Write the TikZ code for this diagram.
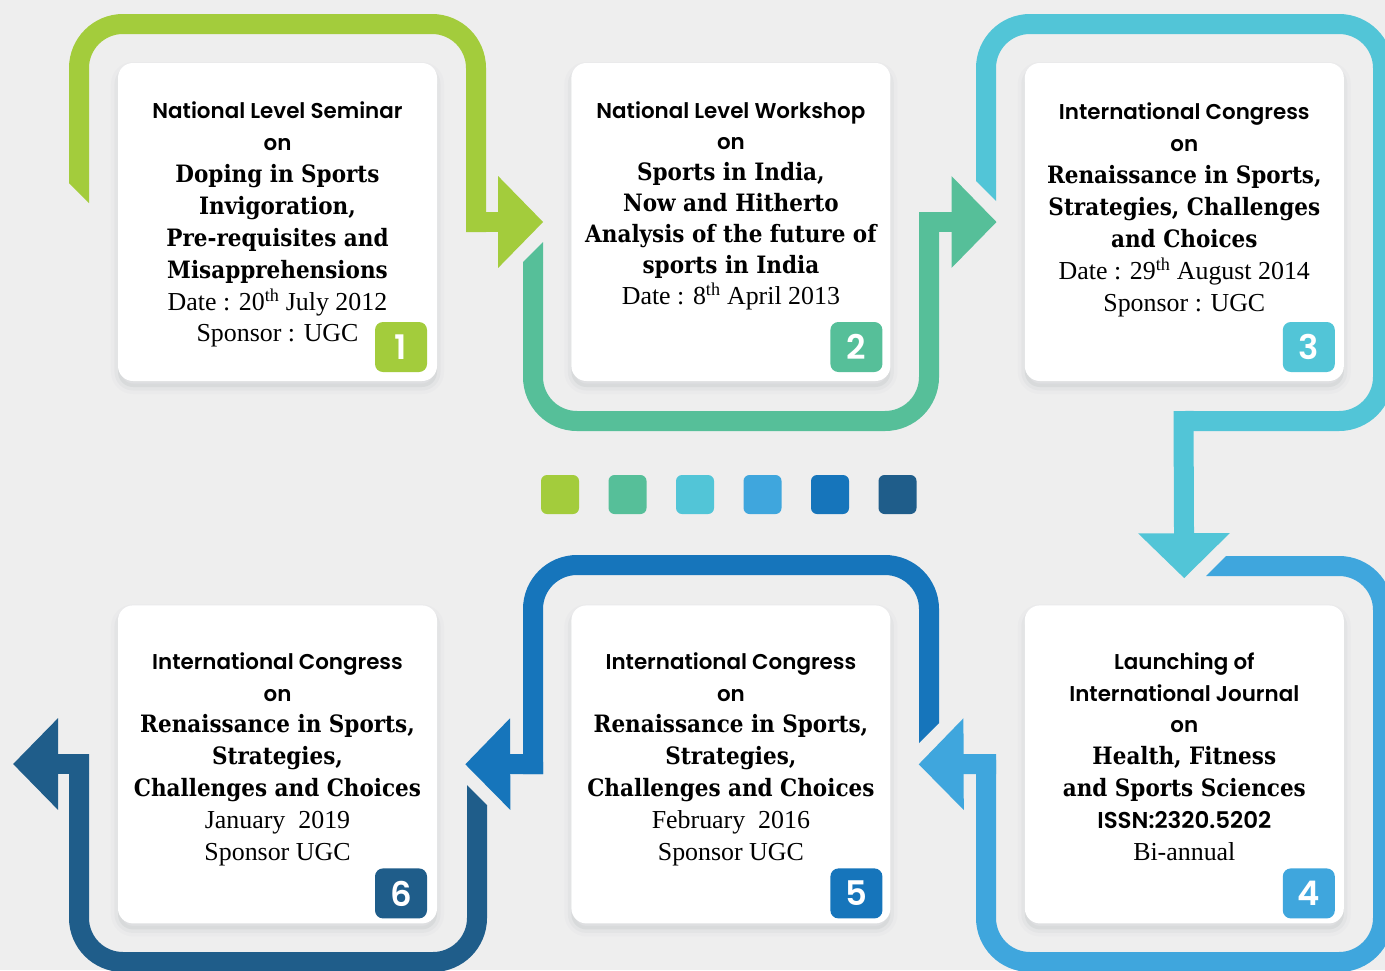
\documentclass[tikz,border=0pt]{standalone}
\usepackage{fontspec}
\setmainfont{Liberation Serif}
\newfontfamily\gothicfam{Poppins}[UprightFont=* Medium, BoldFont=* SemiBold]
\newfontfamily\slabfam{DejaVu Serif}[FakeStretch=0.9]
\usetikzlibrary{arrows.meta,positioning}

\definecolor{bg}{HTML}{EEEEEE}
\definecolor{leaf}{HTML}{A3CC3C}
\definecolor{mint}{HTML}{56BF99}
\definecolor{aqua}{HTML}{52C5D7}
\definecolor{sky}{HTML}{3FA6DD}
\definecolor{ocean}{HTML}{1675BB}
\definecolor{navy}{HTML}{1F5D8A}
\definecolor{shade}{HTML}{5A6670}

\newcommand{\hdfont}{\gothicfam\bfseries\fontsize{21.5}{32}\selectfont}
\newcommand{\slabfont}{\slabfam\bfseries\fontsize{24}{32}\selectfont}
\newcommand{\datefont}{\rmfamily\fontsize{26}{32}\selectfont}

\tikzstyle{Card} = [fill=white, rounded corners=15bp, minimum width=319bp, minimum height=318bp, inner sep=0pt,
  preaction={draw=shade, line width=14bp, opacity=0.025, transform canvas={yshift=-6bp}},
  preaction={draw=shade, line width=7bp, opacity=0.045, transform canvas={yshift=-6bp}},
  preaction={fill=shade, opacity=0.08, transform canvas={yshift=-6bp}}]
\tikzstyle{Info} = [align=center, inner sep=0pt, font=\datefont]
\tikzstyle{Badge} = [rounded corners=8bp, minimum width=52bp, minimum height=50bp, inner sep=0pt, text=white,
  font=\gothicfam\bfseries\fontsize{34}{34}\selectfont]
\tikzstyle{Loop} = [line width=20bp, rounded corners=44bp]
\tikzstyle{Head} = [-{Triangle[length=45bp,width=89bp]}, sharp corners]
\tikzstyle{Dot} = [rounded corners=6bp, minimum width=38bp, minimum height=39bp, inner sep=0pt]

\begin{document}
\begin{tikzpicture}[x=1bp, y=-1bp]
    \useasboundingbox (0,0) rectangle (1385,970);
    \fill[bg] (0,0) rectangle (1385,970);

    % cards
    \node[Card] (c1) at (277.5,222) {};
    \node[Card] (c2) [right=134bp of c1] {};
    \node[Card] (c3) [right=134bp of c2] {};
    \node[Card] (c4) [below=224bp of c3] {};
    \node[Card] (c5) [left=134bp of c4] {};
    \node[Card] (c6) [left=134bp of c5] {};

    % loops
    \fill[leaf] (69,183) -- (89,183) -- (89,203) -- cycle;
    \draw[Loop, leaf] (79,183) -- (79,24) -- (476,24) -- (476,232);
    \draw[Loop, Head, leaf, shorten >=28bp] (466,222) -- (c2.west);

    \fill[mint] (543,242) -- (543,262) -- (523,262) -- cycle;
    \draw[Loop, mint] (533,262) -- (533,421) -- (929,421) -- (929,212);
    \draw[Loop, Head, mint, shorten >=28bp] (919,222) -- (c3.west);

    \fill[aqua] (976,181) -- (996,181) -- (996,201) -- cycle;
    \draw[Loop, aqua] (986,181) -- (986,24) -- (1383,24) -- (1383,421) -- (1174,421);
    \draw[Loop, Head, aqua, shorten >=27bp] (1183.5,411) -- (c4.north);

    \fill[sky] (1226,556) -- (1226,576) -- (1206,576) -- cycle;
    \draw[Loop, sky] (1226,566) -- (1383,566) -- (1383,962) -- (986,962) -- (986,754);
    \draw[Loop, Head, sky, shorten >=28bp] (996,764) -- (c5.east);

    \fill[ocean] (919,723) -- (939,723) -- (919,743) -- cycle;
    \draw[Loop, ocean] (929,723) -- (929,565) -- (533,565) -- (533,774);
    \draw[Loop, Head, ocean, shorten >=28bp] (543,764) -- (c6.east);

    \fill[navy] (467,785) -- (467,805) -- (487,805) -- cycle;
    \draw[Loop, navy] (477,805) -- (477,962) -- (79,962) -- (79,754);
    \coordinate (exit) at (13,764);
    \draw[Loop, Head, navy] (89,764) -- (exit);

    % texts
    \node[Info] (t1) [below=39bp of c1.north] {{\hdfont National Level Seminar}\\ {\hdfont on}\\
      {\slabfont Doping in Sports}\\ {\slabfont Invigoration,}\\ {\slabfont Pre-requisites and}\\
      {\slabfont Misapprehensions}\\ Date : 20\textsuperscript{th} July 2012\\ Sponsor : UGC};
    \node[Info, font=\rmfamily\fontsize{26}{31}\selectfont] (t2) [below=39bp of c2.north] {{\hdfont National Level Workshop}\\ {\hdfont on}\\
      {\slabfont Sports in India,}\\ {\slabfont Now and Hitherto}\\ {\slabfont Analysis of the future of}\\
      {\slabfont sports in India}\\ Date : 8\textsuperscript{th} April 2013};
    \node[Info] (t3) [below=40bp of c3.north] {{\hdfont International Congress}\\ {\hdfont on}\\
      {\slabfont Renaissance in Sports,}\\ {\slabfont Strategies, Challenges}\\ {\slabfont and Choices}\\
      Date : 29\textsuperscript{th} August 2014\\ Sponsor : UGC};
    \node[Info] (t4) [below=47bp of c4.north] {{\hdfont Launching of}\\ {\hdfont International Journal}\\ {\hdfont on}\\
      {\slabfont Health, Fitness}\\ {\slabfont and Sports Sciences}\\
      {\gothicfam\bfseries\fontsize{23}{32}\selectfont ISSN:2320.5202}\\ Bi-annual};
    \node[Info] (t5) [below=47bp of c5.north] {{\hdfont International Congress}\\ {\hdfont on}\\
      {\slabfont Renaissance in Sports,}\\ {\slabfont Strategies,}\\ {\slabfont Challenges and Choices}\\
      February~~2016\\ Sponsor UGC};
    \node[Info] (t6) [below=47bp of c6.north] {{\hdfont International Congress}\\ {\hdfont on}\\
      {\slabfont Renaissance in Sports,}\\ {\slabfont Strategies,}\\ {\slabfont Challenges and Choices}\\
      January~~2019\\ Sponsor UGC};

    % badges
    \node[Badge, fill=leaf]  (b1) [above left=9bp and 10bp of c1.south east] {1};
    \node[Badge, fill=mint]  (b2) [above left=9bp and 8bp of c2.south east] {2};
    \node[Badge, fill=aqua]  (b3) [above left=9bp and 9bp of c3.south east] {3};
    \node[Badge, fill=sky]   (b4) [above left=5bp and 9bp of c4.south east] {4};
    \node[Badge, fill=ocean] (b5) [above left=5bp and 8bp of c5.south east] {5};
    \node[Badge, fill=navy]  (b6) [above left=5bp and 10bp of c6.south east] {6};

    % colour strip
    \foreach \col [count=\i] in {leaf,mint,aqua,sky,ocean,navy}
      \node[Dot, fill=\col] (d\i) at ({492.5+67.5*\i},494.5) {};
  \end{tikzpicture}
\end{document}
